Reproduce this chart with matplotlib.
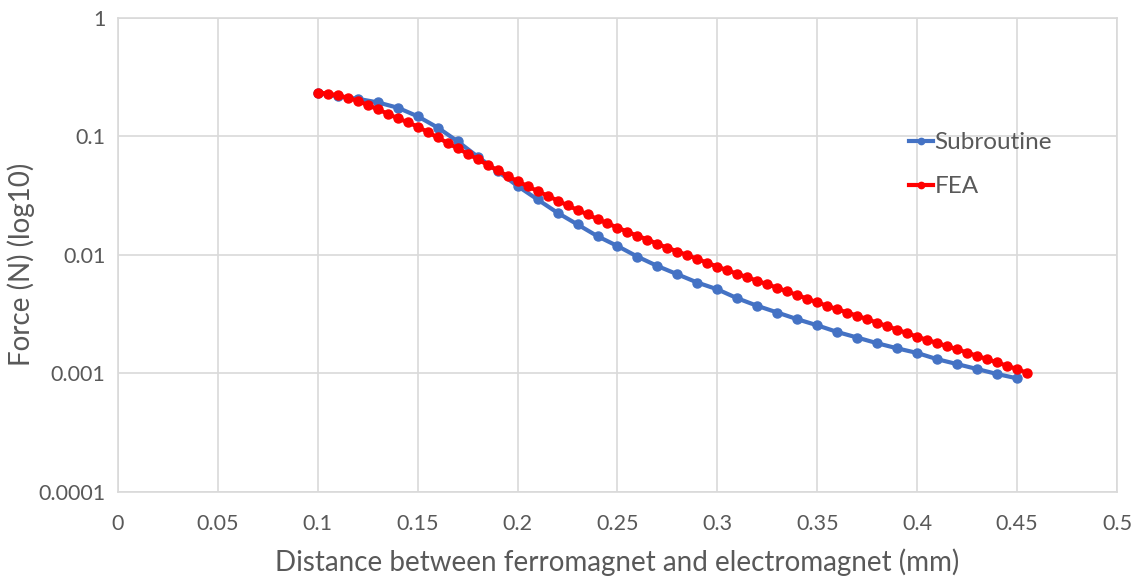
import matplotlib
matplotlib.use("Agg")
import matplotlib.pyplot as plt
from matplotlib.ticker import FixedLocator, FixedFormatter, NullLocator

plt.rcParams['font.family'] = ['Lato', 'DejaVu Sans']

# Subroutine results (0.01 mm steps)
sub_x = [0.10, 0.11, 0.12, 0.13, 0.14, 0.15, 0.16, 0.17, 0.18, 0.19,
         0.20, 0.21, 0.22, 0.23, 0.24, 0.25, 0.26, 0.27, 0.28, 0.29,
         0.30, 0.31, 0.32, 0.33, 0.34, 0.35, 0.36, 0.37, 0.38, 0.39,
         0.40, 0.41, 0.42, 0.43, 0.44, 0.45]
sub_force = [0.233, 0.218, 0.208, 0.194, 0.175, 0.148, 0.119, 0.091, 0.0676, 0.0509,
             0.0382, 0.0294, 0.0227, 0.0181, 0.0144, 0.0119, 0.00968, 0.00807, 0.00687, 0.00585,
             0.00513, 0.00431, 0.00372, 0.00327, 0.00287, 0.00255, 0.00224, 0.00201, 0.00180, 0.00163,
             0.00149, 0.00132, 0.00120, 0.00109, 0.00099, 0.00091]

# FEA results (0.005 mm steps)
fea_x = [0.100, 0.105, 0.110, 0.115, 0.120, 0.125, 0.130, 0.135, 0.140, 0.145,
         0.150, 0.155, 0.160, 0.165, 0.170, 0.175, 0.180, 0.185, 0.190, 0.195,
         0.200, 0.205, 0.210, 0.215, 0.220, 0.225, 0.230, 0.235, 0.240, 0.245,
         0.250, 0.255, 0.260, 0.265, 0.270, 0.275, 0.280, 0.285, 0.290, 0.295,
         0.300, 0.305, 0.310, 0.315, 0.320, 0.325, 0.330, 0.335, 0.340, 0.345,
         0.350, 0.355, 0.360, 0.365, 0.370, 0.375, 0.380, 0.385, 0.390, 0.395,
         0.400, 0.405, 0.410, 0.415, 0.420, 0.425, 0.430, 0.435, 0.440, 0.445,
         0.450, 0.455]
fea_force = [0.235, 0.230, 0.2227, 0.2122, 0.2001, 0.1841, 0.1698, 0.1555, 0.1426, 0.1319,
             0.1209, 0.1091, 0.0981, 0.0882, 0.0794, 0.0716, 0.0643, 0.0577, 0.0517, 0.0465,
             0.0419, 0.0381, 0.0346, 0.0316, 0.0288, 0.0262, 0.0240, 0.0220, 0.0201, 0.0185,
             0.0170, 0.0157, 0.0145, 0.0135, 0.0124, 0.0115, 0.0107, 0.00998, 0.00925, 0.00858,
             0.00797, 0.00742, 0.00693, 0.00648, 0.00605, 0.00566, 0.00528, 0.00492, 0.00459, 0.00427,
             0.00398, 0.00372, 0.00348, 0.00327, 0.00307, 0.00287, 0.00268, 0.00251, 0.00234, 0.00219,
             0.00204, 0.00192, 0.00181, 0.00170, 0.00160, 0.00150, 0.00141, 0.00132, 0.00124, 0.00116,
             0.00109, 0.00101]

x_ticks = [0, 0.05, 0.1, 0.15, 0.2, 0.25, 0.3, 0.35, 0.4, 0.45, 0.5]
x_labels = ['0', '0.05', '0.1', '0.15', '0.2', '0.25', '0.3', '0.35', '0.4', '0.45', '0.5']
y_ticks = [0.0001, 0.001, 0.01, 0.1, 1]
y_labels = ['0.0001', '0.001', '0.01', '0.1', '1']

text_col = '#595959'
grid_col = '#d9d9d9'

fig = plt.figure(figsize=(11.38, 5.79), dpi=100)
ax = fig.add_axes([0.1037, 0.1503, 0.8778, 0.8186])

ax.plot(sub_x, sub_force, color='#4472C4', lw=3, marker='o', ms=6.5, label='Subroutine', zorder=3)
ax.plot(fea_x, fea_force, color='#FF0000', lw=3, marker='o', ms=6.5, label='FEA', zorder=4)

ax.set_yscale('log')
ax.set_xlim(0, 0.5)
ax.set_ylim(0.0001, 1)
ax.xaxis.set_major_locator(FixedLocator(x_ticks))
ax.xaxis.set_major_formatter(FixedFormatter(x_labels))
ax.yaxis.set_major_locator(FixedLocator(y_ticks))
ax.yaxis.set_major_formatter(FixedFormatter(y_labels))
ax.yaxis.set_minor_locator(NullLocator())

ax.grid(True, color=grid_col, lw=1.2)
ax.set_axisbelow(True)
for s in ax.spines.values():
    s.set_color(grid_col)
    s.set_linewidth(1.2)
ax.tick_params(axis='x', length=0, labelsize=15.5, colors=text_col, pad=16)
ax.tick_params(axis='y', length=0, labelsize=15.5, colors=text_col, pad=9)

ax.set_xlabel('Distance between ferromagnet and electromagnet (mm)', fontsize=20, color=text_col, labelpad=10)
fig.text(21 / 1138, 1 - 264 / 579, 'Force (N) (log10)', rotation=90, fontsize=20,
         color=text_col, ha='center', va='center')

leg = ax.legend(loc='upper left', bbox_to_anchor=(0.77, 0.805), frameon=False,
                fontsize=17.5, handlelength=1.0, handletextpad=0.05, labelspacing=0.95,
                markerscale=0.7)
for t in leg.get_texts():
    t.set_color(text_col)

fig.savefig('out.png', dpi=100)
